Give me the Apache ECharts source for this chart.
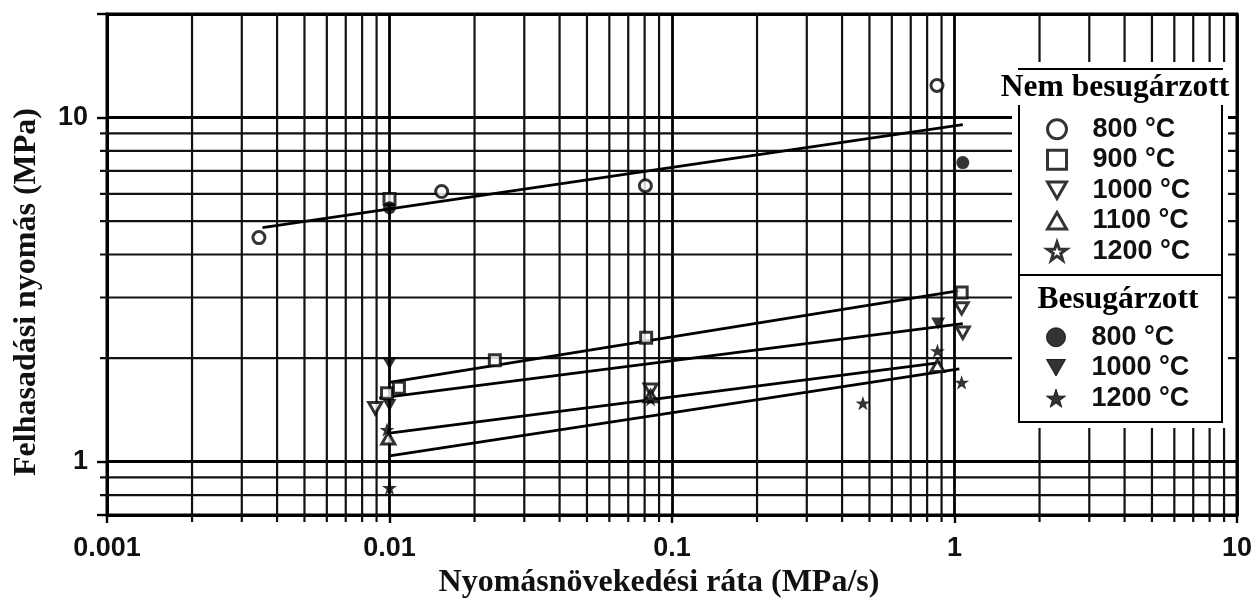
<!DOCTYPE html>
<html><head><meta charset="utf-8">
<script src="https://cdn.jsdelivr.net/npm/echarts@6/dist/echarts.min.js"></script>
<style>html,body{margin:0;padding:0;background:#fff}#c{width:1260px;height:600px}</style>
</head><body><div id="c"></div>
<script>
// ---- axis ranges & grid/tick values ----
const xMin = 0.001, xMax = 10, yMin = 0.7, yMax = 20;
const xMinorGrid = [0.002,0.003,0.004,0.005,0.006,0.007,0.008,0.009,
                    0.02,0.03,0.04,0.05,0.06,0.07,0.08,0.09,
                    0.2,0.3,0.4,0.5,0.6,0.7,0.8,0.9,
                    2,3,4,5,6,7,8,9];
const yMinorGrid = [0.8,0.9,2,3,4,5,6,7,8,9];
const tempLabels = ['800 °C','900 °C','1000 °C','1100 °C','1200 °C'];

// ---- data: [rate MPa/s, burst pressure MPa] ----
const nem800  = [[0.00345,4.48],[0.0153,6.1],[0.0805,6.34],[0.867,12.4]];
const nem900  = [[0.01,5.8],[0.0098,1.58],[0.0108,1.64],[0.0236,1.97],[0.081,2.29],[1.06,3.1]];
const nem1000 = [[0.0089,1.43],[0.084,1.62],[1.06,2.79],[1.07,2.37]];
const nem1100 = [[0.0099,1.17],[0.084,1.55],[0.87,1.9]];
const nem1200 = [];
const bes800  = [[0.01,5.47],[1.07,7.4]];
const bes1000 = [[0.01,1.93],[0.01,1.46],[0.875,2.52]];
const bes1200 = [[0.0098,1.24],[0.01,0.84],[0.084,1.52],[0.474,1.48],[0.87,2.1],[1.06,1.7]];

// ---- fitted lines (end points) ----
const fit800  = [[0.00355,4.79],[1.07,9.54]];
const fit900  = [[0.01,1.70],[1.04,3.14]];
const fit1000 = [[0.0092,1.53],[1.07,2.52]];
const fit1100 = [[0.01,1.21],[0.889,1.94]];
const fit1200 = [[0.01,1.04],[1.04,1.86]];

const STAR = 'path://M50,0 L61.8,35.1 L98.1,35.1 L68.7,56.8 L79.4,91.6 L50,70 L20.6,91.6 L31.3,56.8 L1.9,35.1 L38.2,35.1 Z';
const TRI_DOWN = 'path://M0,0 L100,0 L50,87 Z';
const TRI_UP = 'path://M50,0 L100,87 L0,87 Z';

const openStyle = {color:'#fff', borderColor:'#000', borderWidth:3};
const fillStyle = {color:'#000', borderColor:'#000', borderWidth:0};

function sc(name, data, symbol, size, style){
  return {name, type:'scatter', data, symbol, symbolSize:size, symbolKeepAspect:true,
          itemStyle:style, z:5, silent:true};
}
function fit(data){
  return {type:'line', data, symbol:'none', lineStyle:{color:'#000', width:2.8}, z:4, silent:true};
}
function vGrid(params, api){
  const cs = params.coordSys;
  const p = api.coord([api.value(0), yMin]);
  return {type:'line', shape:{x1:p[0], y1:cs.y, x2:p[0], y2:cs.y+cs.height+7},
          style:{stroke:'#111', lineWidth:2.2}};
}
function hGrid(params, api){
  const cs = params.coordSys;
  const p = api.coord([xMin, api.value(1)]);
  return {type:'line', shape:{x1:cs.x-7, y1:p[1], x2:cs.x+cs.width, y2:p[1]},
          style:{stroke:'#111', lineWidth:2.2}};
}
const nemNames = tempLabels.map(t => 'Nem besugárzott ' + t);
const besNames = ['Besugárzott 800 °C','Besugárzott 1000 °C','Besugárzott 1200 °C'];
const strip = n => n.replace('Nem besugárzott ','').replace('Besugárzott ','');

const chart = echarts.init(document.getElementById('c'), null, {renderer:'canvas'});
const isPow = v => Math.abs(Math.log10(v) - Math.round(Math.log10(v))) < 1e-6;
const tickFont = {fontFamily:'Liberation Sans', fontWeight:'bold', fontSize:27, color:'#111'};
const legendText = {fontFamily:'Liberation Sans', fontWeight:'bold', fontSize:27, color:'#111',
                    lineHeight:30.5, padding:[0,0,0,21]};

chart.setOption({
  backgroundColor:'#fff',
  animation:false,
  grid:{left:107, right:23, top:14, bottom:85, show:true, borderColor:'#000', borderWidth:3, backgroundColor:'transparent'},
  xAxis:{type:'log', logBase:10, min:xMin, max:xMax,
    axisLine:{lineStyle:{color:'#000', width:3}},
    axisTick:{length:8, lineStyle:{color:'#000', width:2.4}},
    axisLabel:Object.assign({margin:20, formatter:v => isPow(v) ? String(+v.toPrecision(3)) : ''}, tickFont),
    splitLine:{show:true, lineStyle:{color:'#000', width:2.8}}},
  yAxis:{type:'log', logBase:10, min:yMin, max:yMax,
    axisLine:{lineStyle:{color:'#000', width:3}},
    axisTick:{length:10, lineStyle:{color:'#000', width:2.4}},
    axisLabel:Object.assign({margin:19, formatter:v => isPow(v) ? String(Math.round(v)) : ''}, tickFont),
    splitLine:{show:true, lineStyle:{color:'#000', width:2.8}}},
  legend:[
    {data:nemNames, orient:'vertical', left:1046, top:114, itemWidth:19, itemHeight:19, itemGap:0,
     padding:0, z:120, selectedMode:false, formatter:strip, textStyle:legendText,
     itemStyle:{borderWidth:3, borderColor:'#000'}},
    {data:besNames, orient:'vertical', left:1046, top:322, itemWidth:19, itemHeight:19, itemGap:0,
     padding:0, z:120, selectedMode:false, formatter:strip, textStyle:legendText,
     itemStyle:{borderWidth:1, borderColor:'#000'}}
  ],
  graphic:[
    {type:'rect', shape:{x:1012, y:62, width:216, height:366}, style:{fill:'#fff'}, z:100, silent:true},
    {type:'line', shape:{x1:1018, y1:69, x2:1223, y2:69}, style:{stroke:'#000', lineWidth:2}, z:105},
    {type:'line', shape:{x1:1019, y1:105, x2:1019, y2:422}, style:{stroke:'#000', lineWidth:2}, z:105},
    {type:'line', shape:{x1:1222, y1:105, x2:1222, y2:422}, style:{stroke:'#000', lineWidth:2}, z:105},
    {type:'line', shape:{x1:1019, y1:275, x2:1222, y2:275}, style:{stroke:'#000', lineWidth:2}, z:105},
    {type:'line', shape:{x1:1018, y1:422, x2:1223, y2:422}, style:{stroke:'#000', lineWidth:2}, z:105},
    {type:'text', x:1115, y:88, z:110, style:{text:'Nem besugárzott', fontFamily:'Liberation Serif', fontWeight:'bold', fontSize:31.5, fill:'#000', align:'center', verticalAlign:'middle'}},
    {type:'text', x:1118, y:300, z:110, style:{text:'Besugárzott', fontFamily:'Liberation Serif', fontWeight:'bold', fontSize:31.5, fill:'#000', align:'center', verticalAlign:'middle'}},
    {type:'text', x:659, y:583, z:110, style:{text:'Nyomásnövekedési ráta (MPa/s)', fontFamily:'Liberation Serif', fontWeight:'bold', fontSize:32, fill:'#111', align:'center', verticalAlign:'middle'}},
    {type:'text', x:27, y:292, rotation:Math.PI/2, z:110, style:{text:'Felhasadási nyomás (MPa)', fontFamily:'Liberation Serif', fontWeight:'bold', fontSize:32, fill:'#111', align:'center', verticalAlign:'middle'}}
  ],
  series:[
    {type:'custom', renderItem:vGrid, data:xMinorGrid.map(v => [v, yMin]), encode:{x:0, y:1}, z:1, silent:true, clip:false},
    {type:'custom', renderItem:hGrid, data:yMinorGrid.map(v => [xMin, v]), encode:{x:0, y:1}, z:1, silent:true, clip:false},
    fit(fit800), fit(fit900), fit(fit1000), fit(fit1100), fit(fit1200),
    sc(nemNames[0], nem800, 'circle', 12, openStyle),
    sc(nemNames[1], nem900, 'rect', 11, openStyle),
    sc(nemNames[2], nem1000, TRI_DOWN, 13, openStyle),
    sc(nemNames[3], nem1100, TRI_UP, 13, openStyle),
    sc(nemNames[4], nem1200, STAR, 14, openStyle),
    sc(besNames[0], bes800, 'circle', 13, fillStyle),
    sc(besNames[1], bes1000, TRI_DOWN, 14, fillStyle),
    sc(besNames[2], bes1200, STAR, 15, fillStyle)
  ]
});
</script></body></html>
